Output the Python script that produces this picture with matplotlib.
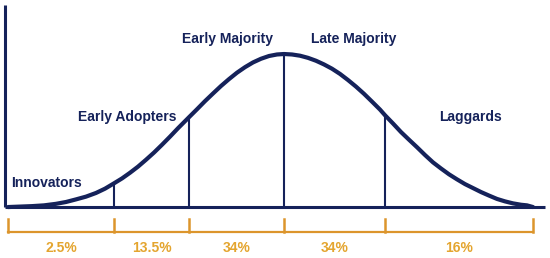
import matplotlib.pyplot as plt

# adoption curve: time position and relative height (peak = 1)
t = [8, 20, 32, 44, 56, 66, 76, 86, 96, 105, 114, 122, 130, 138, 146, 154, 162, 170, 178,
     189, 197, 205, 213, 221, 229, 237, 245, 253, 261, 269, 277, 284,
     292, 300, 308, 316, 324, 332, 340, 348, 356, 364, 372, 380, 385, 393, 401, 409, 417,
     425, 433, 441, 449, 457, 465, 473, 481, 489, 497, 505, 513, 521, 527, 533]
h = [0.0, 0.003, 0.006, 0.011, 0.021, 0.033, 0.050, 0.068, 0.092, 0.120, 0.155, 0.187,
     0.224, 0.264, 0.309, 0.356, 0.407, 0.460, 0.515, 0.587, 0.639, 0.692, 0.742, 0.791,
     0.836, 0.878, 0.914, 0.945, 0.969, 0.987, 0.997, 1.0,
     0.997, 0.989, 0.975, 0.956, 0.932, 0.904, 0.870, 0.830, 0.787, 0.740, 0.689, 0.637,
     0.600, 0.546, 0.490, 0.440, 0.391, 0.340, 0.292, 0.252, 0.214, 0.181, 0.150, 0.124,
     0.098, 0.075, 0.053, 0.037, 0.024, 0.015, 0.011, 0.0]

# segment boundaries and the curve height at each inner one
bounds = [8, 114, 189, 284, 385, 533]
bound_h = [0.155, 0.587, 1.0, 0.600]
shares = ['2.5%', '13.5%', '34%', '34%', '16%']

groups = ['Innovators', 'Early Adopters', 'Early Majority', 'Late Majority', 'Laggards']
group_x = [47, 127, 227, 354, 470]
group_y = [0.157, 0.59, 1.10, 1.10, 0.59]

navy = '#15225a'
orange = '#dc952c'
gold = '#e4a52f'

fig = plt.figure(figsize=(5.5, 2.58), dpi=100)
ax = fig.add_axes([0, 0, 1, 1])
ax.set_xlim(0, 550)
ax.set_ylim(-0.333, 1.353)
ax.axis('off')

# axes lines
ax.plot([5, 5], [0, 1.32], color=navy, lw=2.2, solid_capstyle='butt')
ax.plot([5, 545], [0, 0], color=navy, lw=2.2, solid_capstyle='butt')

ax.plot(t, h, color=navy, lw=3, solid_capstyle='round', solid_joinstyle='round')
for b, bh in zip(bounds[1:-1], bound_h):
    ax.plot([b, b], [0, bh], color=navy, lw=1.5)

# braces under the axis
lo, hi = -0.163, -0.075
ax.plot([bounds[0], bounds[-1]], [lo, lo], color=orange, lw=1.6)
for b in bounds:
    ax.plot([b, b], [lo, hi], color=orange, lw=1.8)

for i, s in enumerate(shares):
    ax.text((bounds[i] + bounds[i + 1]) / 2, -0.27, s, color=gold, fontsize=10,
            fontweight='bold', family='Liberation Sans', ha='center', va='center')

for g, gx, gy in zip(groups, group_x, group_y):
    ax.text(gx, gy, g, color=navy, fontsize=10, fontweight='bold',
            family='Liberation Sans', ha='center', va='center')

fig.savefig('out.png', dpi=100)
